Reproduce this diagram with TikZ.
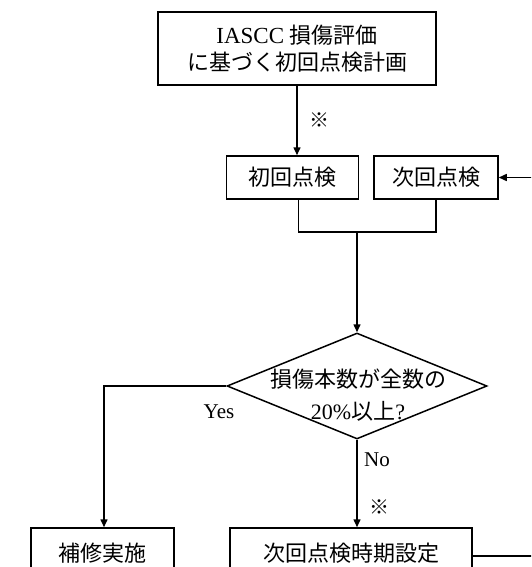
\documentclass[tikz,border=0pt]{standalone}
\usepackage{fontspec}
\setmainfont{Liberation Serif}
\newfontfamily\jp{Noto Sans CJK JP}
\usetikzlibrary{arrows.meta,shapes.geometric}
\begin{document}
\begin{tikzpicture}[x=1pt,y=-1pt,
  box/.style={draw,line width=1.5pt,inner sep=0pt,font=\fontsize{22}{27}\selectfont},
  line/.style={line width=1.5pt},
  flow/.style={line width=1.5pt,-{Triangle[length=8pt,width=7pt]}},
  lbl/.style={inner sep=0pt,font=\fontsize{21}{25}\selectfont},
  notemark/.style={inner sep=0pt,font=\jp\fontsize{20}{20}\selectfont}]
\clip (0,0) rectangle (531,567);

% process boxes
\node[box,minimum width=278pt,minimum height=73pt,align=center] (plan) at (297,48.5)
  {{\fontsize{23}{27}\selectfont IASCC} {\jp 損傷評価}\\[0pt]{\jp に基づく初回点検計画}};
\node[box,minimum width=132pt,minimum height=43pt] (first) at (292.5,177.5) {\jp 初回点検};
\node[box,minimum width=124pt,minimum height=43pt] (next) at (436,177.5) {\jp 次回点検};
\node[draw,line width=1.5pt,shape=diamond,inner sep=0pt,minimum width=260pt,minimum height=106pt] (dia) at (357,386) {};
\node[lbl,align=center,font=\fontsize{22}{32}\selectfont] (dtext) at (358,395)
  {{\jp 損傷本数が全数の}\\20\%{\jp 以上}?};
\node[box,minimum width=143pt,minimum height=50pt] (repair) at (102.5,553) {\jp 補修実施};
\node[box,minimum width=242pt,minimum height=50pt] (sched) at (351,553) {\jp 次回点検時期設定};

% connectors
\coordinate (join) at (357,232);
\draw[flow] (plan.south) -- (plan.south |- first.north);
\draw[line] ([xshift=6pt]first.south) |- (join) -| (next.south);
\draw[flow] (join) -- (dia.north);
\draw[flow] (dia.west) -| ([xshift=1.5pt]repair.north);
\draw[flow] (dia.south) -- (dia.south |- sched.north);
\coordinate (loop) at (545,556);
\draw[flow] (sched.east |- loop) -- (loop) |- (next.east);

% labels
\node[lbl] (yes) at (219,412) {Yes};
\node[lbl] (no) at (377,460) {No};
\node[notemark] (note1) at (319,120) {※};
\node[notemark] (note2) at (379,507) {※};
\end{tikzpicture}
\end{document}
